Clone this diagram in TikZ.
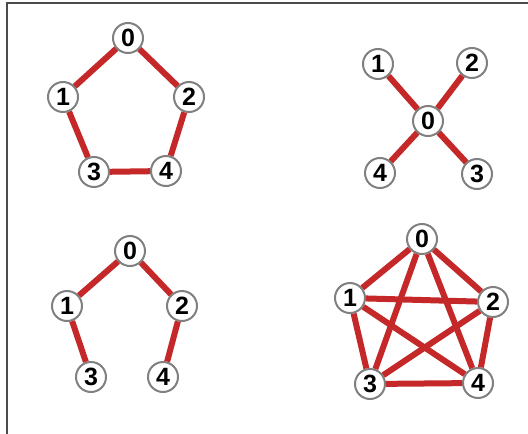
\documentclass[tikz,border=0pt]{standalone}
\usepackage{fontspec}
\setsansfont{Liberation Sans}
\definecolor{edgered}{RGB}{196,40,40}
\definecolor{ringgray}{RGB}{128,128,128}
\tikzset{
  vert/.style={circle, draw=ringgray, line width=2pt, fill=white, inner sep=0pt,
    minimum size=30pt, font=\sffamily\bfseries\fontsize{25}{25}\selectfont},
  edge/.style={draw=edgered, line width=6pt}
}
\begin{document}
\begin{tikzpicture}[x=1pt, y=-1pt]
            \useasboundingbox (0,0) rectangle (528,434);
            \draw[line width=1.5pt, black!70] (7,434) -- (7,3) -- (528,3);
            % cycle
            \node[vert] (a0) at (128,38) {0};
            \node[vert] (a1) at (63,97) {1};
            \node[vert] (a2) at (189,97) {2};
            \node[vert] (a3) at (94,172) {3};
            \node[vert] (a4) at (166,171) {4};
            \draw[edge] (a0) -- (a1) (a0) -- (a2) (a1) -- (a3) (a2) -- (a4) (a3) -- (a4);
            % star
            \node[vert] (b0) at (428,121) {0};
            \node[vert] (b1) at (378,64) {1};
            \node[vert] (b2) at (472,63) {2};
            \node[vert] (b3) at (477,174) {3};
            \node[vert] (b4) at (380,173) {4};
            \foreach \i in {1,...,4}
                \draw[edge] (b0) -- (b\i);
            % path
            \node[vert] (c0) at (130,251) {0};
            \node[vert] (c1) at (67,306) {1};
            \node[vert] (c2) at (182,306) {2};
            \node[vert] (c3) at (91,377) {3};
            \node[vert] (c4) at (163,377) {4};
            \draw[edge] (c0) -- (c1) (c0) -- (c2) (c1) -- (c3) (c2) -- (c4);
            % complete graph
            \node[vert] (d0) at (422,239) {0};
            \node[vert] (d1) at (350,298) {1};
            \node[vert] (d2) at (493,302) {2};
            \node[vert] (d3) at (370,384) {3};
            \node[vert] (d4) at (478,383) {4};
            \foreach \i/\j in {0/1,0/2,0/3,0/4,1/2,1/3,1/4,2/3,2/4,3/4}
                \draw[edge] (d\i) -- (d\j);
        \end{tikzpicture}
\end{document}
